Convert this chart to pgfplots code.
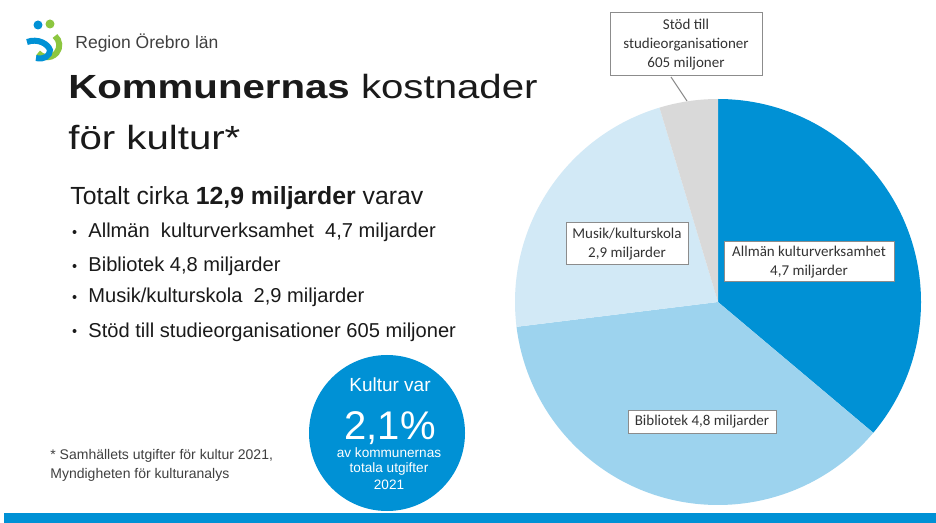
\documentclass[border=0pt]{standalone}
\usepackage{fontspec}
\setmainfont{Liberation Sans}
\newfontfamily\titlefont{Liberation Sans}[FakeStretch=1.2]
\newfontfamily\calfont{Carlito}
\usepackage{pgfplots}
\usepackage{pgfplotstable}
\pgfplotsset{compat=1.18}

\definecolor{ablue}{HTML}{0091D5}
\definecolor{lblue}{HTML}{9DD3EE}
\definecolor{pblue}{HTML}{D2E9F6}
\definecolor{pgray}{HTML}{D9D9D9}
\definecolor{txt}{HTML}{1A1A1A}
\definecolor{boxline}{HTML}{8C8C8C}
\definecolor{lgreen}{HTML}{8CC63F}

% slices, clockwise from 12 o'clock (values in miljarder kr)
\pgfplotstableread{
part value
allman 4.7
bibliotek 4.8
musik 2.9
stod 0.605
}\piedata

\begin{document}
\begin{tikzpicture}[x=0.5pt,y=0.5pt]
\pgfplotstablegetelem{0}{value}\of\piedata\let\vA\pgfplotsretval
\pgfplotstablegetelem{1}{value}\of\piedata\let\vB\pgfplotsretval
\pgfplotstablegetelem{2}{value}\of\piedata\let\vC\pgfplotsretval
\pgfplotstablegetelem{3}{value}\of\piedata\let\vD\pgfplotsretval
\pgfmathsetmacro\tot{\vA+\vB+\vC+\vD}
\pgfmathsetmacro\aA{90}
\pgfmathsetmacro\aB{\aA-360*\vA/\tot}
\pgfmathsetmacro\aC{\aB-360*\vB/\tot}
\pgfmathsetmacro\aD{\aC-360*\vC/\tot}
\pgfmathsetmacro\aE{\aD-360*\vD/\tot}
\useasboundingbox (0,0) rectangle (936,-523);
\fill[white] (0,0) rectangle (936,-523);

% logo
\fill[ablue] (38,-25) circle (4.5);
\fill[lgreen] (50,-24) circle (4.5);
\draw[lgreen,line width=3pt] (55,-36) arc[start angle=50,end angle=-140,radius=12];
\draw[ablue,line width=3pt] (27,-42) .. controls (38,-38) and (48,-44) .. (50,-50) .. controls (50,-56) and (44,-60) .. (36,-58);
\node[anchor=west,inner sep=0,font=\fontsize{8.75}{10}\selectfont,text=black!75] at (75,-43) {Region Örebro län};

% title
\node[anchor=base west,inner sep=0,font=\titlefont\fontsize{16.75}{20}\selectfont,text=txt] at (68,-99) {\textbf{Kommunernas} kostnader};
\node[anchor=base west,inner sep=0,font=\titlefont\fontsize{16.75}{20}\selectfont,text=txt] at (68,-150) {för kultur*};

\node[anchor=base west,inner sep=0,font=\fontsize{12.4}{15}\selectfont,text=txt] at (70,-205) {Totalt cirka \textbf{12,9 miljarder} varav};
\foreach \yy/\line in {238/{Allmän\ \ kulturverksamhet\ \ 4,7 miljarder},272/{Bibliotek 4,8 miljarder},303/{Musik/kulturskola\ \ 2,9 miljarder},337/{Stöd till studieorganisationer 605 miljoner}}{
  \fill[txt] (74.5,-\yy+6) circle (2);
  \node[anchor=base west,inner sep=0,font=\fontsize{10.05}{12}\selectfont,text=txt] at (88,-\yy) {\line};
}

% footnote
\node[anchor=base west,inner sep=0,align=left,font=\fontsize{7}{9.5}\selectfont,text=black!75] at (50,-478) {* Samhällets utgifter för kultur 2021,\\Myndigheten för kulturanalys};

% badge
\fill[ablue] (387,-433) circle (78);
\node[anchor=base,inner sep=0,font=\fontsize{9.5}{11}\selectfont,text=white] at (390,-392) {Kultur var};
\node[anchor=base,inner sep=0,font=\fontsize{20}{22}\selectfont,text=white] at (390,-439) {2,1\%};
\node[anchor=base,inner sep=0,font=\fontsize{6.8}{8}\selectfont,text=white] at (389,-457) {av kommunernas};
\node[anchor=base,inner sep=0,font=\fontsize{6.8}{8}\selectfont,text=white] at (389,-472) {totala utgifter};
\node[anchor=base,inner sep=0,font=\fontsize{6.8}{8}\selectfont,text=white] at (389,-489) {2021};

% bottom bar
\fill[ablue] (4,-513) rectangle (936,-523);

% pie (centre at 718px,302px = 359pt,151pt)
\begin{axis}[at={(359pt,-151pt)},anchor=center,scale only axis,
  width=203pt,height=203pt,xmin=-1,xmax=1,ymin=-1,ymax=1,
  hide axis,clip=false]
\fill[ablue] (axis cs:0,0) -- (axis cs:{cos(\aA)},{sin(\aA)}) arc[start angle=\aA,end angle=\aB,radius=101.5pt] -- cycle;
\fill[lblue] (axis cs:0,0) -- (axis cs:{cos(\aB)},{sin(\aB)}) arc[start angle=\aB,end angle=\aC,radius=101.5pt] -- cycle;
\fill[pblue] (axis cs:0,0) -- (axis cs:{cos(\aC)},{sin(\aC)}) arc[start angle=\aC,end angle=\aD,radius=101.5pt] -- cycle;
\fill[pgray] (axis cs:0,0) -- (axis cs:{cos(\aD)},{sin(\aD)}) arc[start angle=\aD,end angle=\aE,radius=101.5pt] -- cycle;
\end{axis}

% slice labels
\tikzset{lbl/.style={draw=boxline,line width=0.5pt,fill=white,align=center,inner xsep=2pt,inner ysep=1pt,
  font=\calfont\fontsize{7.5}{9.5}\selectfont,text=black!80}}
\draw[boxline,line width=0.5pt] (671,-77) -- (687,-101);
\node[lbl,minimum width=76pt,minimum height=31.5pt] at (686,-44.5) {Stöd till\\studieorganisationer\\605 miljoner};
\node[lbl,minimum width=61pt,minimum height=21pt] at (627,-244) {Musik/kulturskola\\2,9 miljarder};
\node[lbl,minimum width=85pt,minimum height=20pt] at (809,-262) {Allmän kulturverksamhet\\4,7 miljarder};
\node[lbl,minimum width=74pt,minimum height=11.5pt] at (702,-421.5) {Bibliotek 4,8 miljarder};
\end{tikzpicture}
\end{document}
